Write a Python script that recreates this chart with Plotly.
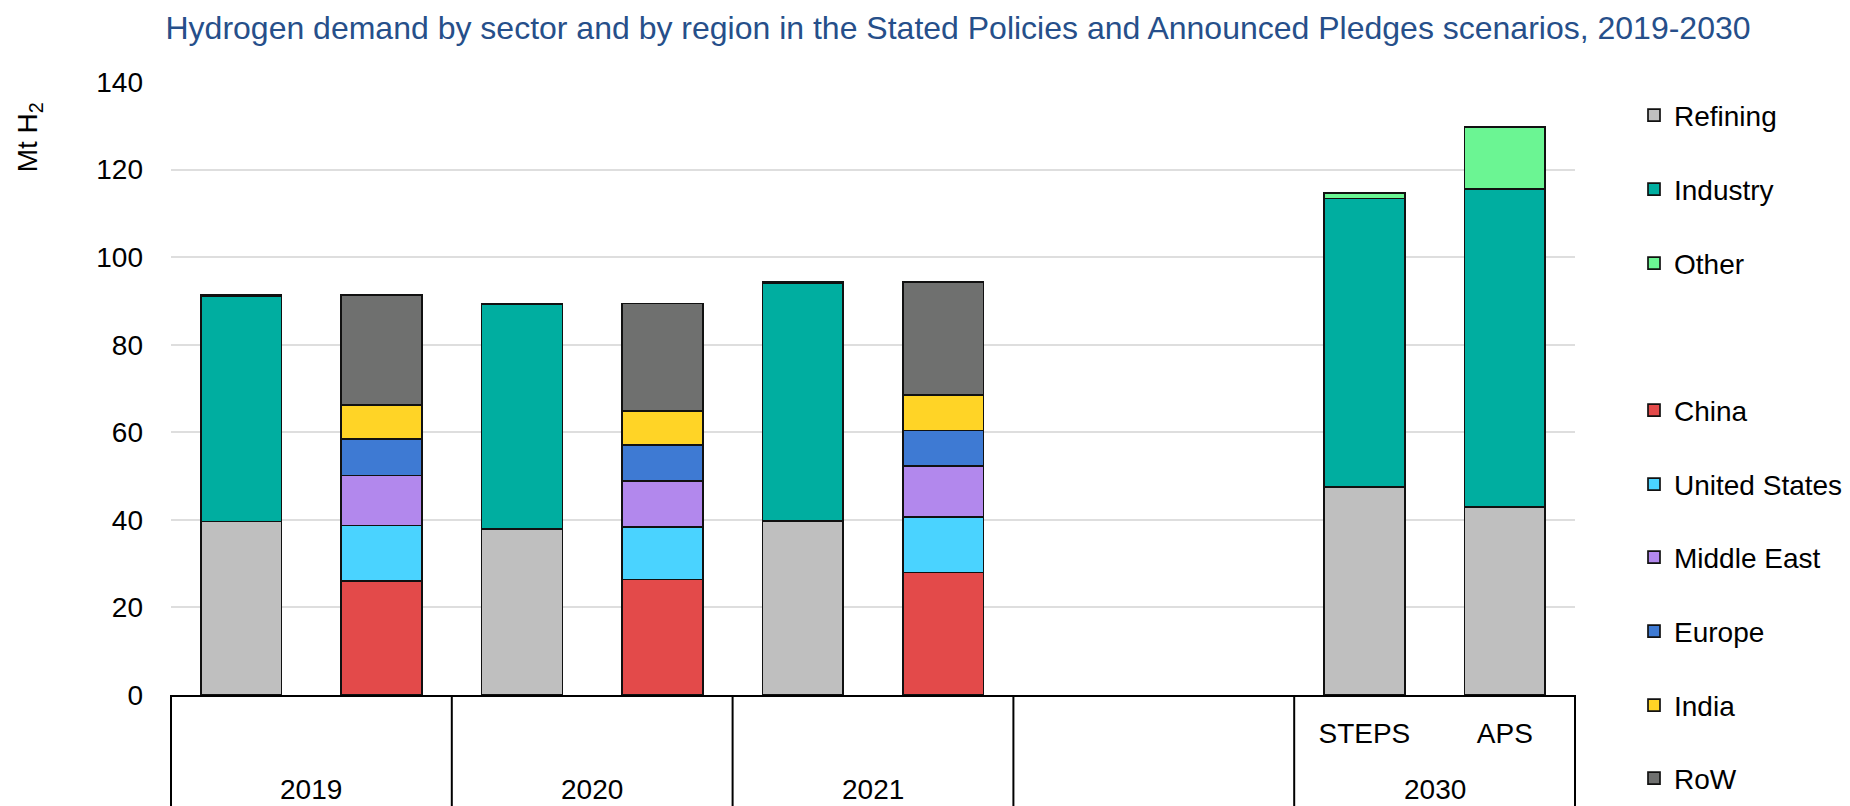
import plotly.graph_objects as go

# ---- data ----
groups = ["2019", "2019", "2020", "2020", "2021", "2021", "", "", "2030", "2030"]
inner_labels = ["", "", "", "", "", "", "", "", "STEPS", "APS"]

sector_slots = [0, 2, 4, 8, 9]
refining = [39.6, 37.9, 39.8, 47.5, 43.0]
industry = [51.5, 51.3, 54.2, 65.9, 72.5]
other = [0.2, 0.2, 0.3, 1.2, 14.3]

region_slots = [1, 3, 5]
china = [26.0, 26.4, 28.0]
united_states = [12.7, 11.9, 12.6]
middle_east = [11.4, 10.6, 11.7]
europe = [8.3, 8.2, 8.1]
india = [7.9, 7.7, 8.1]
row = [25.0, 24.6, 25.8]

sector_series = [("Refining", refining, "#BFBFBF"),
                 ("Industry", industry, "#00AEA0"),
                 ("Other", other, "#6BF593")]
region_series = [("China", china, "#E34A4A"),
                 ("United States", united_states, "#4AD3FF"),
                 ("Middle East", middle_east, "#B288ED"),
                 ("Europe", europe, "#3E7AD3"),
                 ("India", india, "#FFD426"),
                 ("RoW", row, "#6F706F")]

# legend entry centres (px from top of the figure)
legend_centres = [116, 190, 264, 411, 485, 558, 632, 706, 779]

FONT = "Arial, Liberation Sans, sans-serif"
W, H = 1850, 806

fig = go.Figure()
legend_layout = {}
k = 0
for slots, series in ((sector_slots, sector_series), (region_slots, region_series)):
    for name, vals, col in series:
        key = "legend" if k == 0 else f"legend{k + 1}"
        fig.add_trace(go.Bar(x=slots, y=vals, name=name, legend=key, showlegend=True,
                             marker=dict(color=col, line=dict(color="#111111", width=1.7))))
        legend_layout[key] = dict(x=1634 / W, xref="container", xanchor="left",
                                  y=1 - (legend_centres[k] - 25.6) / H, yref="container",
                                  yanchor="top", bgcolor="rgba(0,0,0,0)",
                                  font=dict(size=28))
        k += 1

n = len(groups)
xr = [-0.5, n - 0.5]

# group boundaries & labels
bounds = [-0.5]
group_spans = []
start = 0
for i in range(1, n + 1):
    if i == n or groups[i] != groups[start]:
        bounds.append(i - 0.5)
        group_spans.append((groups[start], (start + i - 1) / 2))
        start = i

shapes = []
for b in bounds:
    fx = (b - xr[0]) / (xr[1] - xr[0])
    shapes.append(dict(type="line", xref="x domain", yref="paper",
                       x0=fx, x1=fx, y0=0, y1=-0.19,
                       line=dict(color="black", width=2)))

annotations = []
for label, cx in group_spans:
    if label:
        annotations.append(dict(text=label, x=cx, xref="x", y=-0.154, yref="paper",
                                showarrow=False, xanchor="center", yanchor="middle",
                                font=dict(size=28, color="black", family=FONT)))
annotations.append(dict(text="Mt H<sub>2</sub>", x=-0.101, xref="paper", y=0.91, yref="paper",
                        textangle=-90, showarrow=False, xanchor="center", yanchor="middle",
                        font=dict(size=28, color="black", family=FONT)))

tick_idx = [i for i, lab in enumerate(inner_labels) if lab]

fig.update_layout(
    width=W, height=H, showlegend=True,
    margin=dict(l=171, r=275, t=82, b=111, autoexpand=False),
    paper_bgcolor="white", plot_bgcolor="white",
    barmode="stack", bargap=0.425,
    font=dict(family=FONT, size=28, color="black"),
    title=dict(text="Hydrogen demand by sector and by region in the Stated Policies and Announced Pledges scenarios, 2019-2030",
               x=958 / W, xref="container", xanchor="center",
               y=1 - 28 / H, yref="container", yanchor="middle",
               font=dict(size=32, color="#264F8A", family=FONT)),
    xaxis=dict(range=xr, tickmode="array", tickvals=tick_idx,
               ticktext=[inner_labels[i] for i in tick_idx],
               showgrid=False, zeroline=False, showline=True, linecolor="black", linewidth=2,
               ticks="", ticklabelstandoff=12, tickfont=dict(size=28)),
    yaxis=dict(range=[0, 140], dtick=20, showgrid=True, gridcolor="#DEDEDE", gridwidth=2,
               zeroline=False, showline=False, ticks="", ticklabelstandoff=27,
               tickfont=dict(size=28)),
    shapes=shapes, annotations=annotations,
    **legend_layout,
)

fig.write_html("out.html", config={"displayModeBar": False},
               post_script="document.body.style.margin='0';document.body.style.overflow='hidden';"
                           "document.documentElement.style.overflow='hidden';")
